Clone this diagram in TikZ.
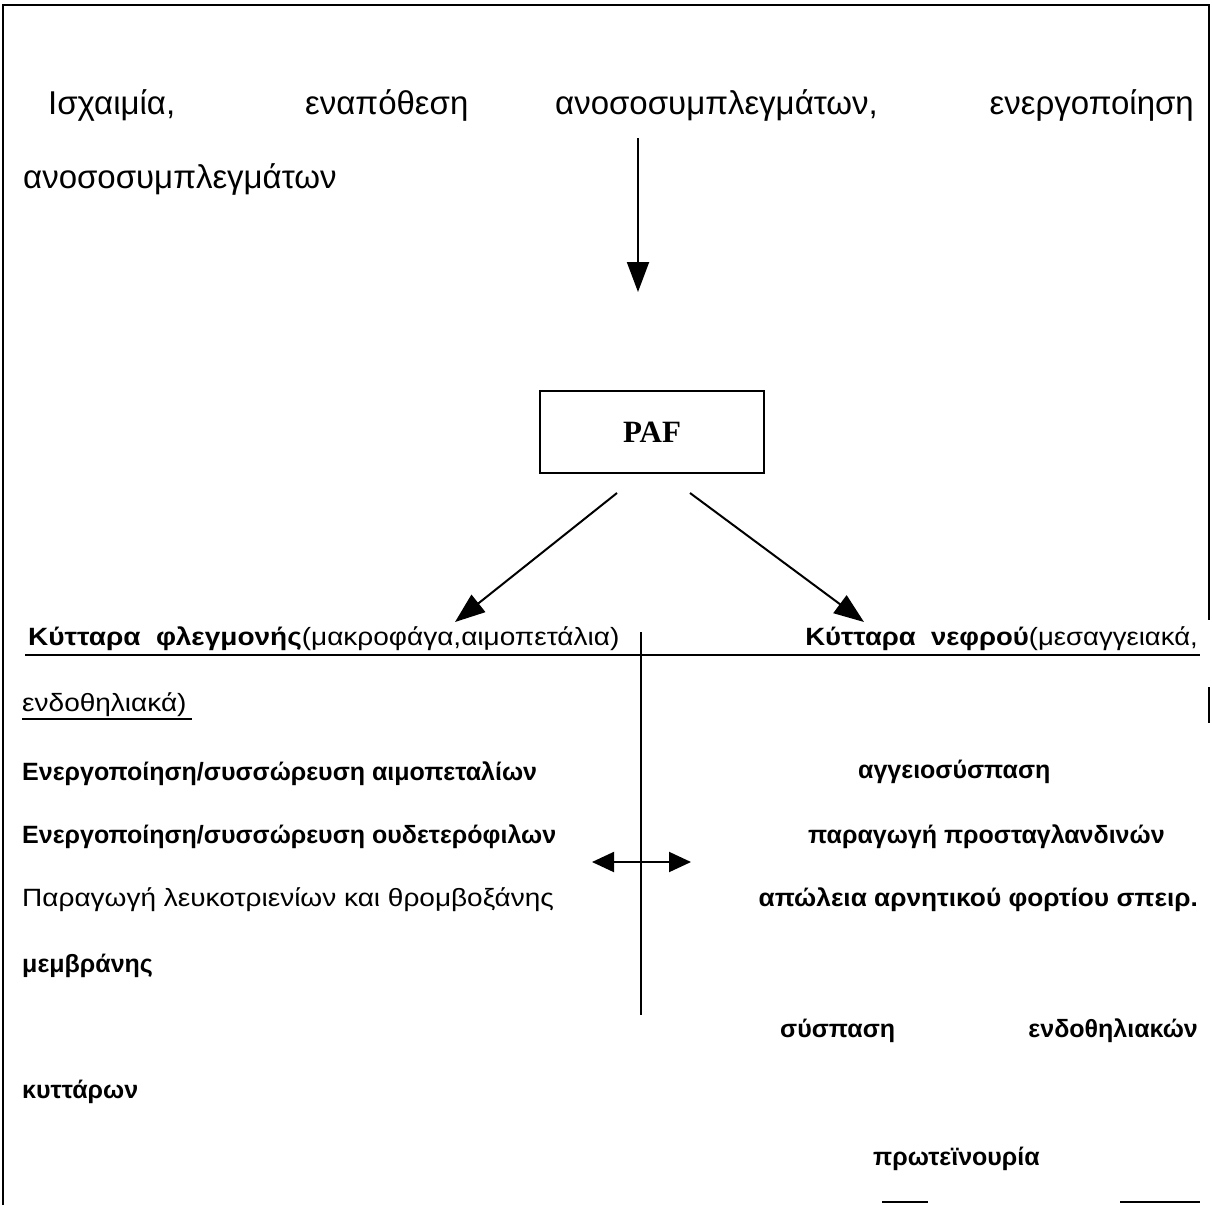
\documentclass[tikz,border=0pt]{standalone}
\usepackage{fontspec}
\setmainfont{Liberation Sans}
\newfontfamily\paffont{Liberation Serif}
\usetikzlibrary{arrows.meta}
\newcommand\hstretchbox[2]{\scalebox{#1}[1]{#2}}
\begin{document}
\begin{tikzpicture}[x=1pt,y=-1pt,
  txt/.style={inner sep=0pt, anchor=base west, font=\fontsize{25}{30}\selectfont\bfseries},
  txtr/.style={inner sep=0pt, anchor=base west, font=\fontsize{25}{30}\selectfont},
  ttl/.style={inner sep=0pt, anchor=base west, font=\fontsize{33}{40}\selectfont},
  ln/.style={line width=2pt},
  arr/.style={line width=2pt, -{Triangle[length=30pt,width=22pt]}},
  darr/.style={line width=2pt, {Triangle[length=22pt,width=20pt]}-{Triangle[length=22pt,width=20pt]}},
  pafbox/.style={draw, line width=2.5pt, minimum width=224pt, minimum height=82pt, inner sep=0pt,
    font=\paffont\fontsize{31}{36}\selectfont\bfseries}]
\useasboundingbox (0,0) rectangle (1212,1205);
% frame
\draw[ln] (3,1205) -- (3,5) -- (1209,5) -- (1209,620);
\draw[ln] (1209,687) -- (1209,723);
\draw[ln] (882,1202) -- (928,1202);
\draw[ln] (1120,1202) -- (1200,1202);
% title
\node[ttl] (t1) at (48,114) {Ισχαιμία,};
\node[ttl] (t2) at (305,114) {εναπόθεση};
\node[ttl] (t3) at (555,114) {ανοσοσυμπλεγμάτων,};
\node[ttl, anchor=base east] (t4) at (1194,114) {ενεργοποίηση};
\node[ttl] (t5) at (23,188) {ανοσοσυμπλεγμάτων};
% PAF
\node[pafbox] (paf) at (652,432) {PAF};
\coordinate (a0) at (638,138);
\coordinate (a1) at (638,292);
\draw[arr] (a0) -- (a1);
% headings
\node[txt] (h1) at (28,645) {\hstretchbox{1.12}{Κύτταρα\ \ φλεγμονής{\mdseries(μακροφάγα,αιμοπετάλια)}}};
\node[txt, anchor=base east] (h2) at (1198,645) {\hstretchbox{1.10}{Κύτταρα\ \ νεφρού{\mdseries(μεσαγγειακά,}}};
\coordinate (pl) at (617,493);
\coordinate (pr) at (690,493);
\coordinate (hl) at (455,622);
\coordinate (hr) at (864,622);
\draw[arr] (pl) -- (hl);
\draw[arr] (pr) -- (hr);
\coordinate (u0) at (25,655);
\coordinate (u1) at (1200,655);
\draw[ln] (u0) -- (u1);
\node[txtr] (h3) at (22,711) {\hstretchbox{1.12}{ενδοθηλιακά)}};
\coordinate (u2) at (22,719);
\coordinate (u3) at (192,719);
\draw[line width=1.6pt] (u2) -- (u3);
% divider and double arrow
\coordinate (v0) at (641,632);
\coordinate (v1) at (641,1015);
\draw[ln] (v0) -- (v1);
\coordinate (d0) at (592,862);
\coordinate (d1) at (691,862);
\draw[darr] (d0) -- (d1);
% left column
\node[txt] (l1) at (22,780) {Ενεργοποίηση/συσσώρευση αιμοπεταλίων};
\node[txt] (l2) at (22,843) {Ενεργοποίηση/συσσώρευση ουδετερόφιλων};
\node[txtr] (l3) at (22,906) {\hstretchbox{1.12}{Παραγωγή λευκοτριενίων και θρομβοξάνης}};
\node[txt] (l4) at (22,972) {μεμβράνης};
\node[txt] (l5) at (22,1098) {κυττάρων};
% right column
\node[txt] (r1) at (858,778) {αγγειοσύσπαση};
\node[txt] (r2) at (808,843) {παραγωγή προσταγλανδινών};
\node[txt, anchor=base east] (r3) at (1198,906) {\hstretchbox{1.05}{απώλεια αρνητικού φορτίου σπειρ.}};
\node[txt] (r4) at (780,1037) {σύσπαση};
\node[txt, anchor=base east] (r5) at (1198,1037) {ενδοθηλιακών};
\node[txt] (r6) at (873,1165) {πρωτεϊνουρία};
\end{tikzpicture}
\end{document}
